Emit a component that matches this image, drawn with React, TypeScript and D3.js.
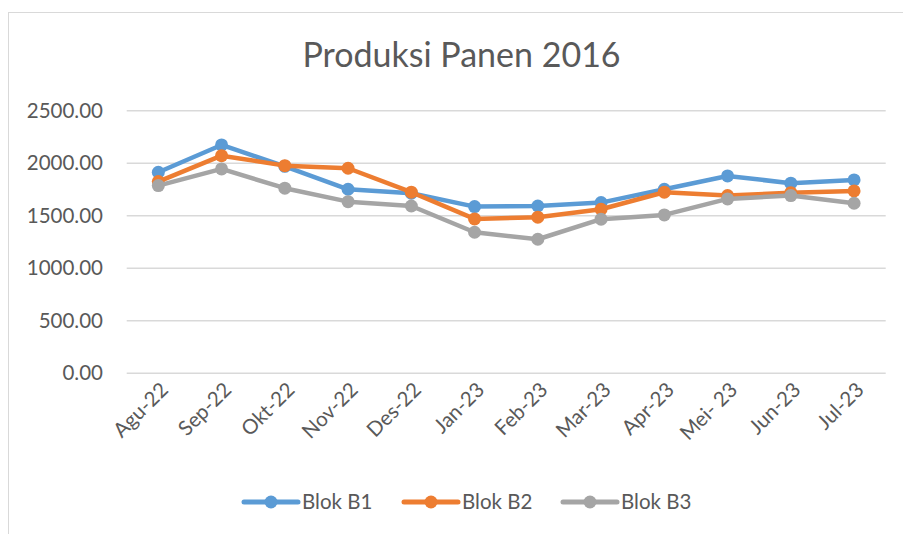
import React from "react";
import * as d3 from "d3";

const categories = ["Agu-22", "Sep-22", "Okt-22", "Nov-22", "Des-22", "Jan-23", "Feb-23", "Mar-23", "Apr-23", "Mei- 23", "Jun-23", "Jul-23"];
const blokB1 = [1914, 2174, 1970, 1752, 1714, 1587, 1593, 1625, 1752, 1879, 1810, 1841];
const blokB2 = [1825, 2072, 1977, 1952, 1724, 1470, 1486, 1562, 1724, 1692, 1720, 1736];
const blokB3 = [1787, 1946, 1762, 1634, 1593, 1343, 1276, 1467, 1508, 1660, 1692, 1619];
const yTicks = [0, 500, 1000, 1500, 2000, 2500];
const seriesNames = ["Blok B1", "Blok B2", "Blok B3"];
const seriesColors = ["#5B9BD5", "#ED7D31", "#A5A5A5"];
const title = "Produksi Panen 2016";

const W = 903;
const H = 534;
const FONT = "Lato, 'Open Sans', sans-serif";
const TEXT = "#595959";

export default function App() {
  const x = d3.scaleBand<string>().domain(categories).range([126.7, 885.7]);
  const y = d3.scaleLinear().domain([0, 2500]).range([373.3, 110.7]);
  const cx = (c: string) => (x(c) as number) + x.bandwidth() / 2;
  const series = [blokB1, blokB2, blokB3];
  const line = d3
    .line<number>()
    .x((_, i) => cx(categories[i]))
    .y((d) => y(d));

  const legendStarts = [244, 404, 563];
  const legendY = 502;

  return (
    <svg
      width={W}
      height={H}
      style={{ position: "absolute", left: 0, top: 0, background: "#fff" }}
      fontFamily={FONT}
    >
      <rect x={0} y={0} width={W} height={H} fill="#fff" />
      <rect x={8.5} y={12.5} width={W + 10} height={H + 10} fill="#fff" stroke="#D9D9D9" strokeWidth={1} />
      <text x={461.5} y={67} textAnchor="middle" fontSize={34} fill={TEXT}>
        {title}
      </text>
      {yTicks.map((t) => (
        <g key={t}>
          <line x1={126.7} x2={885.7} y1={y(t)} y2={y(t)} stroke="#D9D9D9" strokeWidth={1.5} />
          <text x={103} y={y(t)} dy="0.35em" textAnchor="end" fontSize={20.5} fill={TEXT}>
            {d3.format(".2f")(t)}
          </text>
        </g>
      ))}
      {categories.map((c) => (
        <text
          key={c}
          transform={`translate(${cx(c) + 6},${386}) rotate(-45)`}
          textAnchor="end"
          dy="0.35em"
          fontSize={20.5}
          fill={TEXT}
        >
          {c}
        </text>
      ))}
      {series.map((s, si) => (
        <g key={si}>
          <path d={line(s) || ""} fill="none" stroke={seriesColors[si]} strokeWidth={4.5} strokeLinejoin="round" />
          {s.map((v, i) => (
            <circle key={i} cx={cx(categories[i])} cy={y(v)} r={6.5} fill={seriesColors[si]} />
          ))}
        </g>
      ))}
      {seriesNames.map((n, si) => (
        <g key={n}>
          <line
            x1={legendStarts[si]}
            x2={legendStarts[si] + 54}
            y1={legendY}
            y2={legendY}
            stroke={seriesColors[si]}
            strokeWidth={5}
            strokeLinecap="round"
          />
          <circle cx={legendStarts[si] + 27} cy={legendY} r={6.5} fill={seriesColors[si]} />
          <text x={legendStarts[si] + 58} y={legendY} dy="0.35em" fontSize={20.5} fill={TEXT}>
            {n}
          </text>
        </g>
      ))}
    </svg>
  );
}
